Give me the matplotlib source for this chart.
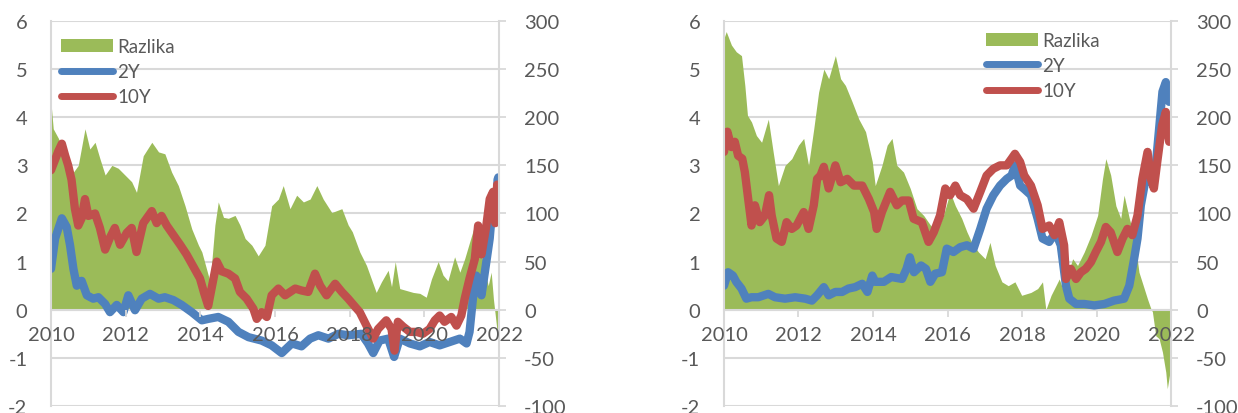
import matplotlib.pyplot as plt
from matplotlib.patches import Patch
from matplotlib.lines import Line2D

plt.rcParams['font.family'] = ['Lato', 'DejaVu Sans']
plt.rcParams['axes.unicode_minus'] = False

GREEN = '#9BBB59'
BLUE = '#4F81BD'
RED = '#C0504D'
GRID = '#D9D9D9'
TEXT = '#595959'

years = [2010, 2012, 2014, 2016, 2018, 2020, 2022]
left_ticks = [-2, -1, 0, 1, 2, 3, 4, 5, 6]
right_ticks = [-100, -50, 0, 50, 100, 150, 200, 250, 300]
labels = ['Razlika', '2Y', '10Y']

# ---- left chart ----
l_x_10y = [2010.0, 2010.2, 2010.29, 2010.38, 2010.46, 2010.55, 2010.64, 2010.73, 2010.82, 2010.91,
           2011.0, 2011.18, 2011.31, 2011.45, 2011.58, 2011.71, 2011.85, 2012.03, 2012.16, 2012.29,
           2012.47, 2012.7, 2012.83, 2012.96, 2013.1, 2013.28, 2013.46, 2013.63, 2013.81, 2013.99,
           2014.1, 2014.21, 2014.44, 2014.57, 2014.75, 2014.93, 2015.06, 2015.24, 2015.42, 2015.51,
           2015.64, 2015.78, 2015.91, 2016.09, 2016.27, 2016.54, 2016.71, 2016.89, 2017.07, 2017.21,
           2017.38, 2017.61, 2017.79, 2017.96, 2018.07, 2018.27, 2018.45, 2018.63, 2018.76, 2018.98,
           2019.12, 2019.2, 2019.29, 2019.43, 2019.61, 2019.79, 2019.96, 2020.14, 2020.28, 2020.41,
           2020.54, 2020.72, 2020.86, 2020.99, 2021.08, 2021.21, 2021.35, 2021.44, 2021.53, 2021.66,
           2021.75, 2021.84, 2021.9, 2021.95, 2021.98]
l_10y = [2.9, 3.3, 3.45, 3.2, 3.0, 2.7, 2.1, 1.75, 1.9, 2.3,
         1.95, 2.0, 1.7, 1.25, 1.5, 1.7, 1.35, 1.6, 1.7, 1.2,
         1.8, 2.05, 1.8, 1.95, 1.75, 1.55, 1.35, 1.15, 0.9, 0.65,
         0.35, 0.08, 1.0, 0.8, 0.75, 0.65, 0.37, 0.23, 0.02, -0.19,
         -0.05, -0.15, 0.3, 0.44, 0.3, 0.44, 0.4, 0.37, 0.75, 0.5,
         0.3, 0.54, 0.37, 0.23, 0.13, -0.05, -0.33, -0.6, -0.4, -0.22,
         -0.4, -0.85, -0.25, -0.35, -0.46, -0.46, -0.5, -0.4, -0.22, -0.12,
         -0.25, -0.15, -0.33, -0.12, 0.23, 0.65, 1.05, 1.75, 1.15, 1.75,
         2.3, 2.45, 1.8, 2.6, 2.4]

l_x_2y = [2010.0, 2010.11, 2010.29, 2010.42, 2010.51, 2010.6, 2010.69, 2010.82, 2010.96, 2011.13,
          2011.27, 2011.45, 2011.58, 2011.76, 2011.94, 2012.07, 2012.25, 2012.43, 2012.65, 2012.88,
          2013.05, 2013.28, 2013.5, 2013.77, 2014.04, 2014.21, 2014.48, 2014.75, 2015.02, 2015.29,
          2015.64, 2015.91, 2016.18, 2016.45, 2016.71, 2016.94, 2017.16, 2017.43, 2017.7, 2017.96,
          2018.31, 2018.49, 2018.63, 2018.8, 2019.03, 2019.19, 2019.34, 2019.61, 2019.88, 2020.14,
          2020.41, 2020.68, 2020.95, 2021.13, 2021.21, 2021.3, 2021.39, 2021.53, 2021.62, 2021.75,
          2021.84, 2021.93, 2021.96, 2021.98]
l_2y = [0.85, 1.48, 1.9, 1.72, 1.34, 0.85, 0.5, 0.6, 0.3, 0.23,
        0.26, 0.12, -0.05, 0.1, -0.05, 0.3, -0.01, 0.23, 0.33, 0.23,
        0.26, 0.2, 0.1, -0.05, -0.22, -0.19, -0.15, -0.25, -0.46, -0.57,
        -0.64, -0.74, -0.9, -0.7, -0.76, -0.6, -0.53, -0.6, -0.5, -0.53,
        -0.5, -0.7, -0.9, -0.64, -0.6, -0.98, -0.6, -0.7, -0.76, -0.67,
        -0.74, -0.67, -0.6, -0.7, -0.46, 0.23, 0.71, 0.3, 0.78, 1.48,
        2.3, 2.1, 2.7, 2.75]

l_x_raz = [2010.0, 2010.06, 2010.2, 2010.33, 2010.46, 2010.6, 2010.73, 2010.91, 2011.04, 2011.18,
           2011.31, 2011.45, 2011.63, 2011.8, 2011.98, 2012.16, 2012.29, 2012.47, 2012.7, 2012.88,
           2013.05, 2013.23, 2013.41, 2013.59, 2013.77, 2013.95, 2014.04, 2014.26, 2014.39, 2014.48,
           2014.62, 2014.75, 2014.93, 2015.06, 2015.2, 2015.38, 2015.55, 2015.73, 2015.91, 2016.09,
           2016.22, 2016.4, 2016.58, 2016.76, 2016.94, 2017.12, 2017.29, 2017.52, 2017.79, 2017.96,
           2018.07, 2018.27, 2018.45, 2018.58, 2018.71, 2018.85, 2019.03, 2019.12, 2019.22, 2019.34,
           2019.52, 2019.7, 2019.88, 2020.05, 2020.19, 2020.37, 2020.5, 2020.63, 2020.81, 2020.95,
           2021.08, 2021.21, 2021.35, 2021.44, 2021.57, 2021.71, 2021.79, 2021.85, 2021.9, 2021.95,
           2021.98]
l_raz = [215, 188, 178, 164, 157, 143, 150, 188, 167, 174,
         157, 140, 150, 147, 140, 133, 122, 160, 174, 164,
         162, 143, 129, 108, 84, 67, 60, 29, 88, 112,
         96, 95, 98, 88, 74, 67, 56, 67, 108, 115,
         129, 105, 119, 112, 115, 129, 115, 101, 105, 88,
         81, 60, 46, 32, 18, 29, 41, 24, 50, 22,
         20, 18, 17, 13, 32, 50, 36, 30, 55, 39,
         53, 70, 88, 74, 50, 25, 39, 11, -6, -23,
         -27]

# ---- right chart ----
r_x_10y = [2010.0, 2010.09, 2010.2, 2010.29, 2010.38, 2010.49, 2010.56, 2010.65, 2010.74, 2010.83,
           2010.96, 2011.1, 2011.21, 2011.28, 2011.41, 2011.55, 2011.68, 2011.82, 2011.95, 2012.14,
           2012.27, 2012.41, 2012.5, 2012.59, 2012.68, 2012.81, 2012.99, 2013.13, 2013.31, 2013.49,
           2013.71, 2013.89, 2014.03, 2014.1, 2014.24, 2014.46, 2014.64, 2014.78, 2014.96, 2015.09,
           2015.31, 2015.49, 2015.63, 2015.8, 2015.94, 2016.07, 2016.21, 2016.34, 2016.52, 2016.7,
           2016.88, 2017.05, 2017.23, 2017.41, 2017.59, 2017.72, 2017.81, 2017.95, 2018.06, 2018.24,
           2018.42, 2018.55, 2018.73, 2018.87, 2019.0, 2019.13, 2019.18, 2019.31, 2019.45, 2019.58,
           2019.71, 2019.85, 2019.98, 2020.12, 2020.25, 2020.38, 2020.56, 2020.7, 2020.83, 2020.96,
           2021.1, 2021.23, 2021.37, 2021.46, 2021.54, 2021.63, 2021.76, 2021.86, 2021.95, 2021.98]
r_10y = [3.28, 3.7, 3.38, 3.49, 3.2, 3.14, 2.86, 2.3, 1.75, 2.17,
         1.82, 1.96, 2.38, 1.96, 1.48, 1.41, 1.82, 1.68, 1.75, 2.03,
         1.68, 2.17, 2.72, 2.79, 2.97, 2.52, 3.0, 2.65, 2.72, 2.58,
         2.58, 2.3, 2.03, 1.68, 2.03, 2.45, 2.17, 2.27, 2.27, 1.89,
         1.82, 1.41, 1.61, 1.96, 2.52, 2.38, 2.58, 2.38, 2.3, 2.1,
         2.45, 2.79, 2.93, 3.0, 3.0, 3.14, 3.24, 3.07, 2.79, 2.58,
         2.17, 1.68, 1.75, 1.55, 1.82, 1.34, 0.64, 0.85, 0.64, 0.78,
         0.85, 0.99, 1.2, 1.41, 1.72, 1.61, 1.2, 1.48, 1.68, 1.55,
         1.96, 2.72, 3.28, 2.72, 2.52, 3.07, 3.83, 4.11, 3.49, 3.9]

r_x_2y = [2010.0, 2010.11, 2010.24, 2010.33, 2010.47, 2010.6, 2010.74, 2010.92, 2011.19, 2011.37,
          2011.64, 2011.91, 2012.18, 2012.36, 2012.5, 2012.68, 2012.81, 2012.99, 2013.17, 2013.34,
          2013.52, 2013.71, 2013.85, 2013.98, 2014.06, 2014.29, 2014.49, 2014.78, 2014.9, 2014.99,
          2015.1, 2015.29, 2015.42, 2015.54, 2015.67, 2015.85, 2015.98, 2016.16, 2016.34, 2016.52,
          2016.7, 2016.88, 2017.05, 2017.23, 2017.41, 2017.59, 2017.72, 2017.81, 2017.95, 2018.07,
          2018.24, 2018.42, 2018.55, 2018.73, 2018.9, 2019.04, 2019.18, 2019.27, 2019.45, 2019.67,
          2019.94, 2020.21, 2020.47, 2020.74, 2020.88, 2021.01, 2021.1, 2021.19, 2021.32, 2021.46,
          2021.59, 2021.68, 2021.77, 2021.86, 2021.95, 2021.98]
r_2y = [0.5, 0.78, 0.71, 0.58, 0.44, 0.23, 0.26, 0.26, 0.33, 0.26,
        0.23, 0.26, 0.23, 0.19, 0.3, 0.47, 0.3, 0.37, 0.37, 0.44,
        0.47, 0.54, 0.37, 0.71, 0.58, 0.58, 0.68, 0.64, 0.85, 1.09,
        0.78, 0.92, 0.85, 0.58, 0.75, 0.78, 1.27, 1.2, 1.3, 1.34,
        1.27, 1.68, 2.1, 2.38, 2.58, 2.72, 2.79, 3.0, 2.58, 2.5,
        2.38, 1.89, 1.48, 1.41, 1.61, 1.34, 0.5, 0.23, 0.12, 0.12,
        0.09, 0.12, 0.19, 0.23, 0.5, 1.06, 1.48, 2.17, 2.72, 2.65,
        3.0, 3.76, 4.53, 4.73, 4.32, 4.39]

r_x_raz = [2010.0, 2010.06, 2010.2, 2010.33, 2010.47, 2010.56, 2010.63, 2010.74, 2010.87, 2011.01,
           2011.19, 2011.32, 2011.46, 2011.64, 2011.82, 2012.0, 2012.14, 2012.27, 2012.41, 2012.54,
           2012.68, 2012.81, 2012.99, 2013.13, 2013.26, 2013.44, 2013.62, 2013.8, 2013.98, 2014.06,
           2014.24, 2014.38, 2014.51, 2014.64, 2014.82, 2015.0, 2015.18, 2015.36, 2015.54, 2015.71,
           2015.89, 2016.07, 2016.21, 2016.38, 2016.52, 2016.65, 2016.83, 2017.01, 2017.14, 2017.28,
           2017.46, 2017.63, 2017.81, 2017.99, 2018.24, 2018.42, 2018.55, 2018.64, 2018.78, 2018.91,
           2019.0, 2019.09, 2019.22, 2019.36, 2019.49, 2019.67, 2019.85, 2020.03, 2020.16, 2020.25,
           2020.38, 2020.52, 2020.65, 2020.74, 2020.88, 2021.01, 2021.14, 2021.28, 2021.37, 2021.46,
           2021.5, 2021.59, 2021.68, 2021.77, 2021.86, 2021.9, 2021.97, 2021.99]
r_raz = [282, 289, 275, 268, 264, 233, 202, 195, 181, 174,
         198, 164, 129, 150, 157, 171, 178, 150, 188, 226,
         250, 240, 264, 240, 233, 216, 198, 185, 154, 129,
         150, 171, 178, 150, 143, 126, 105, 98, 88, 81,
         98, 122, 108, 95, 81, 70, 60, 53, 70, 46,
         29, 25, 29, 15, 18, 22, 29, 0, 15, 25,
         32, 22, 36, 53, 46, 60, 77, 98, 136, 157,
         140, 108, 95, 119, 95, 77, 39, 22, 11, 1,
         -2, -27, -30, -44, -65, -82, -65, -30]


def draw_panel(rect, x_raz, raz, x_2y, y2, x_10y, y10, leg_anchor):
    ax = fig.add_axes(rect)
    ax2 = ax.twinx()

    # spread area on the back axes, right-hand scale in bp
    ax.fill_between(x_raz, 0, raz, color=GREEN, lw=0, zorder=1)
    ax.set_ylim(-100, 300)
    ax.set_yticks(right_ticks)
    ax.yaxis.set_ticks_position('right')
    ax.yaxis.set_label_position('right')
    ax.grid(axis='y', color=GRID, lw=1.5)
    ax.set_axisbelow(True)
    ax.tick_params(axis='y', length=5, width=1.3, color=GRID, labelcolor=TEXT,
                   labelsize=14.5, pad=13)
    ax.xaxis.set_visible(False)
    for s in ax.spines.values():
        s.set_visible(False)

    # yields on the front axes, left-hand scale in %
    ax2.plot(x_2y, y2, color=BLUE, lw=6, solid_joinstyle='round', solid_capstyle='round')
    ax2.plot(x_10y, y10, color=RED, lw=6, solid_joinstyle='round', solid_capstyle='round')
    ax2.set_axisbelow(False)  # year labels sit on top of the lines
    ax2.set_ylim(-2, 6)
    ax2.set_yticks(left_ticks)
    ax2.yaxis.set_ticks_position('left')
    ax2.yaxis.set_label_position('left')
    ax2.tick_params(axis='y', length=0, labelcolor=TEXT, labelsize=14.5, pad=17)
    ax2.xaxis.set_visible(True)
    ax2.set_xlim(2010, 2022)
    ax2.set_xticks(years)
    ax2.set_xticklabels([str(y) for y in years])
    ax2.tick_params(axis='x', length=5, width=1.3, color=GRID, labelcolor=TEXT,
                    labelsize=14.5, pad=7)
    ax2.spines['bottom'].set_position(('data', 0))
    ax2.spines['bottom'].set_zorder(1.5)
    ax2.spines['top'].set_visible(False)
    for s in ['bottom', 'left', 'right']:
        ax2.spines[s].set_color(GRID)
        ax2.spines[s].set_linewidth(1.5)

    handles = [Patch(facecolor=GREEN, edgecolor='none'),
               Line2D([], [], color=BLUE, lw=5, solid_capstyle='round'),
               Line2D([], [], color=RED, lw=5, solid_capstyle='round')]
    ax2.legend(handles, labels, loc='upper left', bbox_to_anchor=leg_anchor,
               frameon=False, fontsize=13.5, labelcolor=TEXT, handlelength=2.8,
               handletextpad=0.2, labelspacing=0.44, borderpad=0, borderaxespad=0)


fig = plt.figure(figsize=(12.38, 4.14), dpi=100)
draw_panel([0.0412, 0.0169, 0.3619, 0.930], l_x_raz, l_raz, l_x_2y, l_2y, l_x_10y, l_10y,
           (0.022, 0.956))
draw_panel([0.5848, 0.0169, 0.3611, 0.930], r_x_raz, r_raz, r_x_2y, r_2y, r_x_10y, r_10y,
           (0.586, 0.972))
fig.savefig('out.png', dpi=100)
